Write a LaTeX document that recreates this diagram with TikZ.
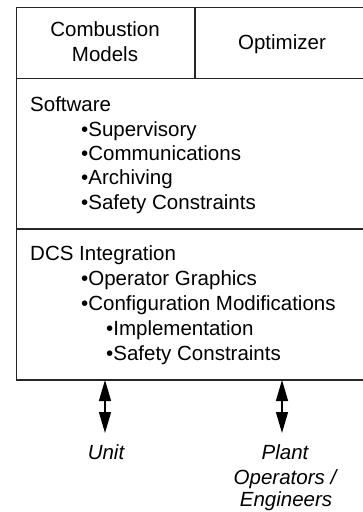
\documentclass[tikz,border=0pt]{standalone}
\usepackage{fontspec}
\setmainfont{Liberation Sans}
\usetikzlibrary{arrows.meta}
\begin{document}
\begin{tikzpicture}[x=1pt,y=-1pt,
  boxline/.style={draw=black!85,line width=1.4pt},
  txt/.style={font=\fontsize{20.5}{24.5}\selectfont,inner sep=0pt,text=black},
  lt/.style={txt,anchor=base west},
  ct/.style={txt,anchor=base},
  lbl/.style={txt,font=\fontsize{20.5}{25.5}\selectfont\itshape,anchor=base},
  dbl/.style={line width=1.3pt,{Triangle[length=21pt,width=12pt]}-{Triangle[length=21pt,width=12pt]}}]
\useasboundingbox (0,0) rectangle (363,512);
\begin{scope}
\clip (0,0) rectangle (363,512);
\draw[boxline] (16.5,7.5) rectangle (372,380);
\draw[boxline] (16.5,78.5) -- (372,78.5);
\draw[boxline] (195,7.5) -- (195,78.5);
\draw[boxline] (16.5,229) -- (372,229);
\end{scope}
\node[ct] (comb1) at (105,36.5) {Combustion};
\node[ct] (comb2) at (105,61.5) {Models};
\node[ct] (opt) at (282,49) {Optimizer};
\node[lt] (sw) at (30,111) {Software};
\node[lt] (sw1) at (81,136) {•Supervisory};
\node[lt] (sw2) at (81,160) {•Communications};
\node[lt] (sw3) at (81,184.5) {•Archiving};
\node[lt] (sw4) at (81,209) {•Safety Constraints};
\node[lt] (dcs) at (30,260) {DCS Integration};
\node[lt] (dcs1) at (81,285.5) {•Operator Graphics};
\node[lt] (dcs2) at (81,310.5) {•Configuration Modifications};
\node[lt] (dcs3) at (106,335.5) {•Implementation};
\node[lt] (dcs4) at (106,360.5) {•Safety Constraints};
\coordinate (a1top) at (105,380);
\coordinate (a1bot) at (105,433);
\coordinate (a2top) at (282,380);
\coordinate (a2bot) at (282,433);
\draw[dbl] (a1top) -- (a1bot);
\draw[dbl] (a2top) -- (a2bot);
\node[lbl] (unit) at (106,459) {Unit};
\node[lbl] (plant1) at (285,459) {Plant};
\node[lbl] (plant2) at (285,484) {Operators /};
\node[lbl] (plant3) at (286,506.5) {Engineers};
\end{tikzpicture}
\end{document}
